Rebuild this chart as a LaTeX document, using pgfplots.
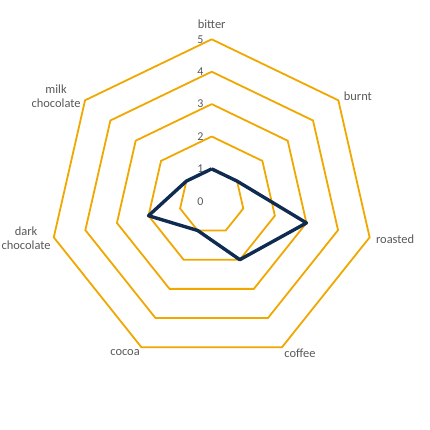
\documentclass[border=0pt]{standalone}
\usepackage{pgfplots}
\pgfplotsset{compat=1.18}
\usepgfplotslibrary{polar}
\usepackage{fontspec}
\setmainfont{Carlito}
\definecolor{ringc}{HTML}{F0A800}
\definecolor{datac}{HTML}{0F2B50}
\definecolor{labc}{HTML}{595959}

% angles: bitter 90, then clockwise in steps of 360/7
\pgfplotstableread{
ang r
90 1
38.571 1
-12.857 3
-64.286 2
-115.714 1
-167.143 2
141.429 1
90 1
}\taste

\begin{document}
\begin{tikzpicture}[x=1bp,y=1bp]
\path (0,0) rectangle (430,430);
\begin{polaraxis}[
    at={(211.7bp,228.7bp)}, anchor=center,
    scale only axis, width=324bp, height=324bp,
    xmin=0, xmax=360, ymin=0, ymax=5,
    hide axis, clip=false,
    every axis plot/.append style={no marks},
]
\foreach \k in {1,...,5}{
  \edef\tmp{\noexpand\addplot[ringc, line width=1.8bp] coordinates {
    (90,\k) (38.571,\k) (-12.857,\k) (-64.286,\k) (-115.714,\k) (-167.143,\k) (141.429,\k) (90,\k)};}
  \tmp
}
\addplot[datac, line width=3.4bp, line join=round] table[x=ang, y=r] {\taste};

\foreach \k in {0,...,5}{
  \edef\tmp{\noexpand\node[labc, font=\noexpand\fontsize{12}{14}\noexpand\selectfont, anchor=east, inner sep=0pt]
    at (axis cs:90,\k) [xshift=-8bp] {\k};}
  \tmp
}
\begin{scope}[every node/.style={labc, font=\fontsize{12.5}{14}\selectfont, align=center, inner sep=0pt}]
\node at (axis cs:90,5.46) {bitter};
\node at (axis cs:35.75,5.56) {burnt};
\node at (axis cs:-11.6,5.78) {roasted};
\node at (axis cs:-59.8,5.42) {coffee};
\node at (axis cs:-119.75,5.39) {cocoa};
\node at (axis cs:191.2,5.84) {dark\\chocolate};
\node at (axis cs:145.9,5.80) {milk\\chocolate};
\end{scope}
\end{polaraxis}
\end{tikzpicture}
\end{document}
